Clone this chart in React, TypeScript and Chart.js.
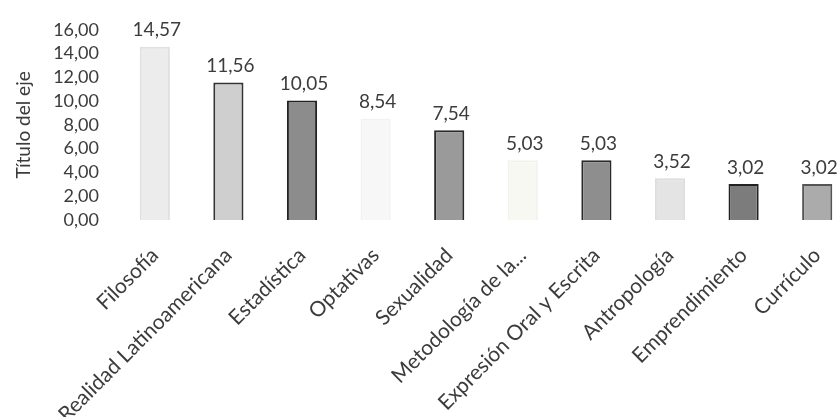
import React, { useEffect, useRef } from "react";
import { Chart, registerables } from "chart.js";

Chart.register(...registerables);

const categories = [
  "Filosofía",
  "Realidad Latinoamericana",
  "Estadística",
  "Optativas",
  "Sexualidad",
  "Metodología de la...",
  "Expresión Oral y Escrita",
  "Antropología",
  "Emprendimiento",
  "Currículo",
];

const values = [14.57, 11.56, 10.05, 8.54, 7.54, 5.03, 5.03, 3.52, 3.02, 3.02];

const barFills = [
  "#ececec",
  "#cfcfcf",
  "#8c8c8c",
  "#f7f7f7",
  "#9a9a9a",
  "#f8f8f3",
  "#8e8e8e",
  "#e4e4e4",
  "#7c7c7c",
  "#ababab",
];

const barBorders = [
  "#e0e0e0",
  "#333333",
  "#222222",
  "#f2f2f2",
  "#2a2a2a",
  "#f3f3ee",
  "#2a2a2a",
  "#dddddd",
  "#222222",
  "#555555",
];

const yAxisTitle = "Título del eje";
const yMin = 0;
const yMax = 16;
const yStep = 2;

const fmt = (v: number) => v.toFixed(2).replace(".", ",");

const FONT = "Lato, 'Open Sans', sans-serif";
const TEXT = "#3c3c3c";

const W = 870;
const H = 417;

export default function App() {
  const ref = useRef<HTMLCanvasElement | null>(null);

  useEffect(() => {
    if (!ref.current) return;
    const labelPlugin = {
      id: "valueLabels",
      afterDatasetsDraw(chart: any) {
        const ctx = chart.ctx;
        const meta = chart.getDatasetMeta(0);
        ctx.save();
        ctx.font = `19px ${FONT}`;
        ctx.fillStyle = TEXT;
        ctx.textAlign = "center";
        ctx.textBaseline = "bottom";
        meta.data.forEach((bar: any, i: number) => {
          ctx.fillText(fmt(values[i]), bar.x + 2, bar.y - 7);
        });
        ctx.restore();
      },
    };
    const chart = new Chart(ref.current, {
      type: "bar",
      data: {
        labels: categories,
        datasets: [
          {
            data: values,
            backgroundColor: barFills,
            borderColor: barBorders,
            borderWidth: 2,
            barPercentage: 0.41,
            categoryPercentage: 1,
          },
        ],
      },
      options: {
        animation: false,
        responsive: false,
        devicePixelRatio: 1,
        layout: { padding: { left: 8, right: W - 854, top: 25, bottom: 0 } },
        plugins: {
          legend: { display: false },
          tooltip: { enabled: false },
        },
        scales: {
          x: {
            grid: { display: false, drawTicks: false },
            border: { display: false },
            ticks: {
              minRotation: 45,
              maxRotation: 45,
              autoSkip: false,
              padding: 23,
              color: TEXT,
              font: { family: FONT, size: 21 },
            },
            afterFit(scale: any) {
              scale.height = H - 220;
            },
          },
          y: {
            min: yMin,
            max: yMax,
            grid: { display: false, drawTicks: false },
            border: { display: false },
            ticks: {
              stepSize: yStep,
              autoSkip: false,
              padding: 19,
              color: TEXT,
              font: { family: FONT, size: 18 },
              callback: (v: any) => fmt(Number(v)),
            },
            title: {
              display: true,
              text: yAxisTitle,
              color: TEXT,
              font: { family: FONT, size: 19 },
              padding: { top: 4, bottom: 4 },
            },
            afterFit(scale: any) {
              scale.width = 110;
            },
          },
        },
      },
      plugins: [labelPlugin],
    });
    return () => chart.destroy();
  }, []);

  return (
    <div
      style={{
        position: "absolute",
        left: 0,
        top: 0,
        width: 839,
        height: 417,
        overflow: "hidden",
        background: "#ffffff",
      }}
    >
      <canvas ref={ref} width={W} height={H} style={{ width: W, height: H, display: "block" }} />
    </div>
  );
}
